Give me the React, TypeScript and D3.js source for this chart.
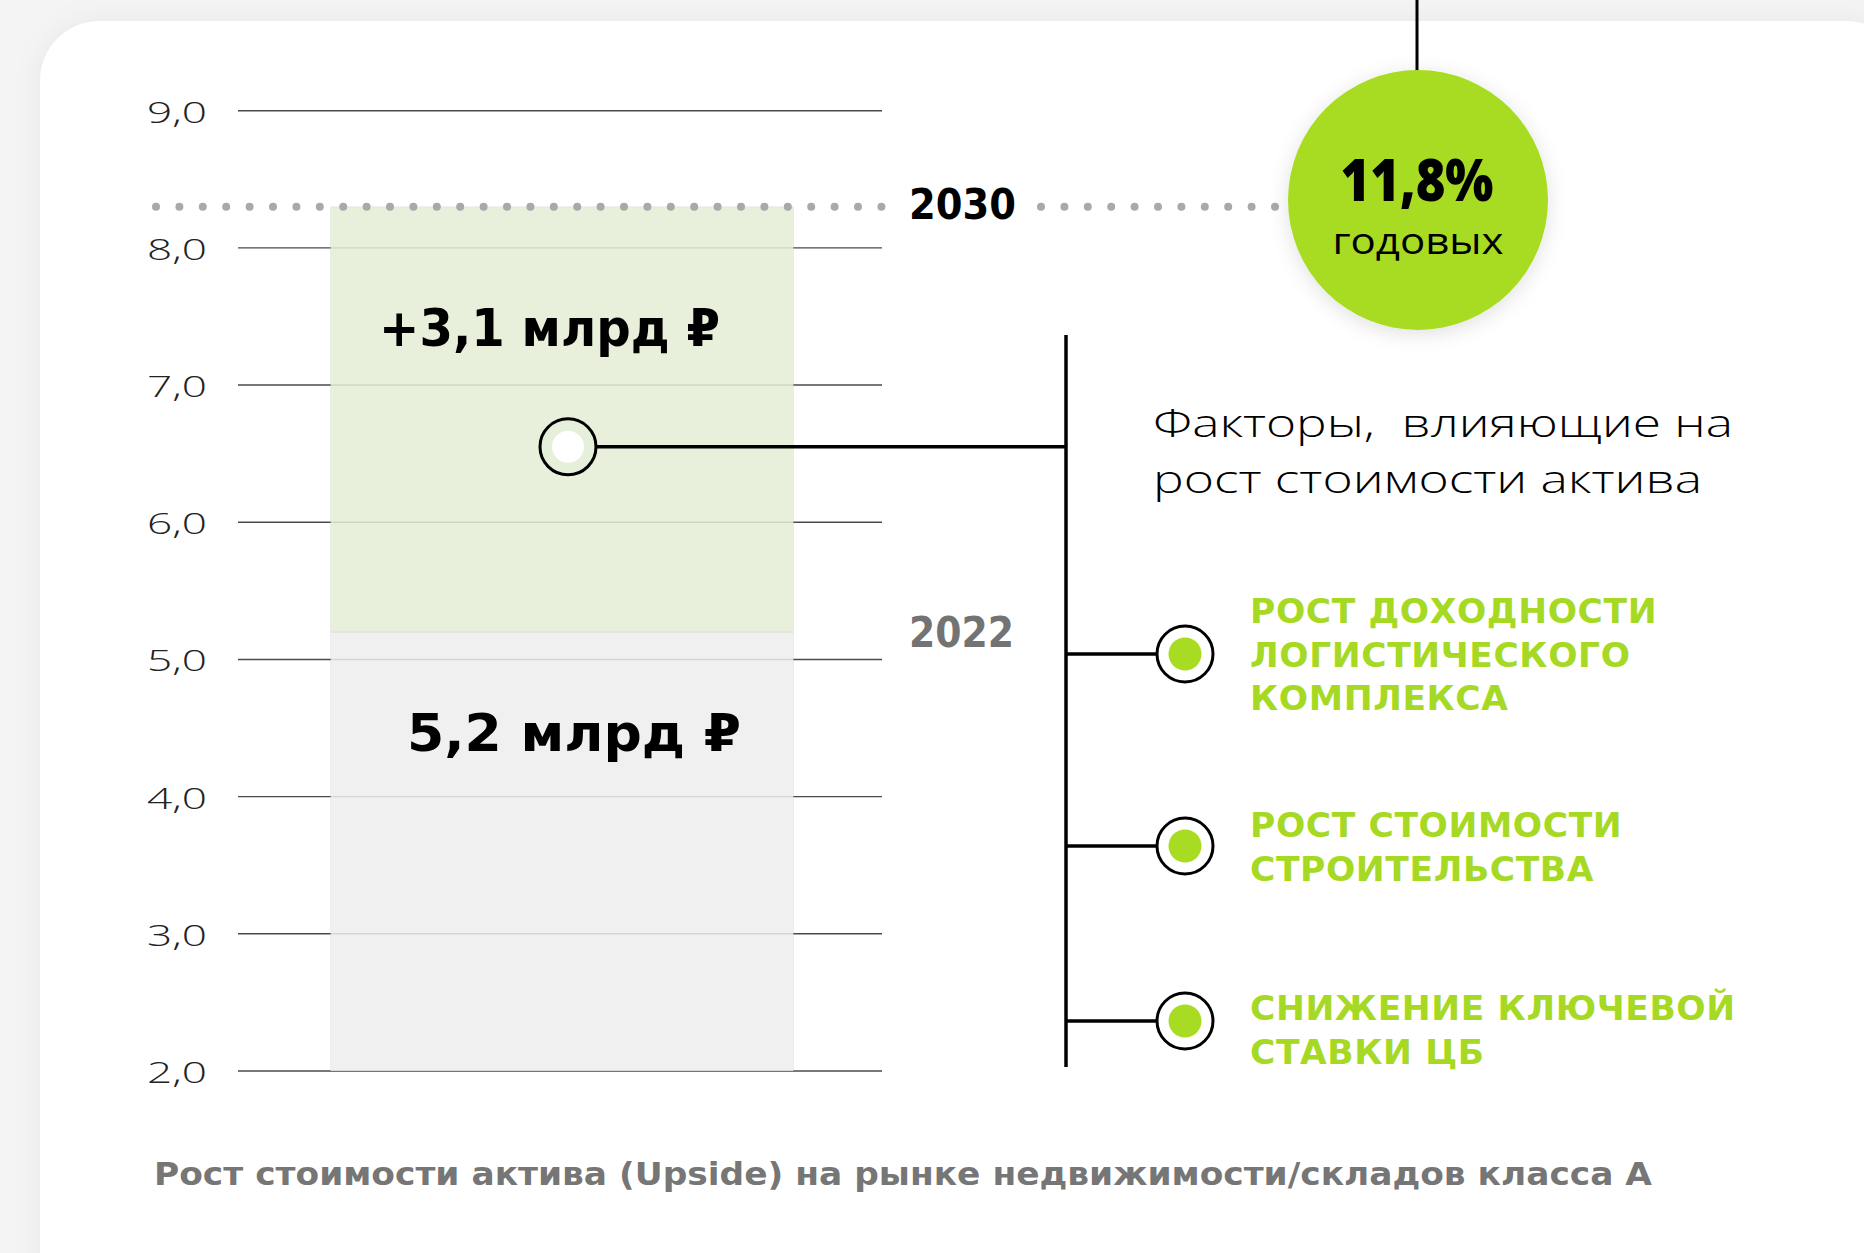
import React from "react";
import * as d3 from "d3";

// ---------- data ----------
const categories = ["Upside"];
const seriesKeys = ["2022", "growth"];
const seriesValues = [5.2, 3.1]; // 2022 value, growth to 2030
const seriesLabels = ["5,2 млрд ₽", "+3,1 млрд ₽"];
const yearLabels = ["2022", "2030"];
const yTicks = [2, 3, 4, 5, 6, 7, 8, 9];
const yTickLabels = ["2,0", "3,0", "4,0", "5,0", "6,0", "7,0", "8,0", "9,0"];
const rateValue = "11,8%";
const rateLabel = "годовых";
const factorsTitle = ["Факторы,  влияющие на", "рост стоимости актива"];
const factors = [
  ["РОСТ ДОХОДНОСТИ", "ЛОГИСТИЧЕСКОГО", "КОМПЛЕКСА"],
  ["РОСТ СТОИМОСТИ", "СТРОИТЕЛЬСТВА"],
  ["СНИЖЕНИЕ КЛЮЧЕВОЙ", "СТАВКИ ЦБ"],
];
const caption = "Рост стоимости актива (Upside) на рынке недвижимости/складов класса А";

// ---------- layout ----------
const W = 1864;
const H = 1253;
const BOLD = "'DejaVu Sans', 'Noto Sans', sans-serif";
const LIGHT = "'Open Sans', 'Lato', 'Noto Sans', sans-serif";
const GREEN = "#a8dc22";
const GREEN_TEXT = "#a6d923";

export default function App() {
  const y = d3.scaleLinear().domain([2, 9]).range([1071, 110.7]);
  const x = d3.scaleBand().domain(categories).range([238, 886]).paddingInner(0).paddingOuter(0.2);
  const row: any = { cat: categories[0] };
  seriesKeys.forEach((k, i) => (row[k] = seriesValues[i]));
  const stacked = d3.stack().keys(seriesKeys)([row]);
  const y0 = y.domain()[0];
  const bx = x(categories[0]) as number;
  const bw = x.bandwidth();
  const total = seriesValues[0] + seriesValues[1];
  const barFills = ["#eeeeee", "#e4edd6"];

  const tlX = 1066;
  const factorYs = [654, 846, 1021];
  const factorFirstBaselines = [623, 837, 1020];
  const lineGap = 43.5;
  const anchorY = y(6.55);
  const anchorX = bx + bw / 2 + 6;
  const circ = { cx: 1418, cy: 200, r: 130 };

  return (
    <div style={{ position: "absolute", left: 0, top: 0, width: W, height: H }}>
      <svg width={W} height={H} viewBox={`0 0 ${W} ${H}`} style={{ display: "block" }}>
        <defs>
          <filter id="cardShadow" x="-10%" y="-10%" width="120%" height="120%">
            <feDropShadow dx="0" dy="0" stdDeviation="14" floodColor="#000" floodOpacity="0.05" />
          </filter>
          <filter id="circShadow" x="-30%" y="-30%" width="160%" height="160%">
            <feDropShadow dx="0" dy="4" stdDeviation="10" floodColor="#000" floodOpacity="0.12" />
          </filter>
        </defs>
        <rect x={0} y={0} width={W} height={H} fill="#f4f4f4" />
        <rect x={40} y={21} width={1866} height={1300} rx={60} fill="#ffffff" filter="url(#cardShadow)" />

        {/* grid lines */}
        {yTicks.map((t) => (
          <line key={t} x1={238} x2={882} y1={y(t)} y2={y(t)} stroke="#4a4a4a" strokeWidth={1.4} />
        ))}
        {/* tick labels */}
        {yTicks.map((t, i) => (
          <text
            key={"l" + t}
            x={207}
            y={y(t) + 12}
            textAnchor="end"
            fontFamily={LIGHT}
            fontWeight={300}
            fontSize={30}
            fill="#222"
            textLength={60}
            lengthAdjust="spacingAndGlyphs"
          >
            {yTickLabels[i]}
          </text>
        ))}

        {/* stacked bars */}
        {stacked.map((s, i) => {
          const d = s[0];
          const lo = Math.max(d[0], y0);
          return (
            <rect
              key={s.key}
              x={bx}
              width={bw}
              y={y(d[1])}
              height={y(lo) - y(d[1])}
              fill={barFills[i]}
              fillOpacity={0.86}
              stroke="rgba(0,0,0,0.05)"
              strokeWidth={1}
            />
          );
        })}

        {/* bar labels */}
        <text x={407} y={y(seriesValues[0]) + 119} fontFamily={BOLD} fontWeight={700} fontSize={52} fill="#000" textLength={334} lengthAdjust="spacingAndGlyphs">
          {seriesLabels[0]}
        </text>
        <text x={379} y={346} fontFamily={BOLD} fontWeight={700} fontSize={52} fill="#000" textLength={341} lengthAdjust="spacingAndGlyphs">
          {seriesLabels[1]}
        </text>

        {/* dotted 2030 level */}
        <line x1={156} x2={890} y1={y(total)} y2={y(total)} stroke="#a9a9a9" strokeWidth={8} strokeDasharray="0 23.4" strokeLinecap="round" />
        <line x1={1041} x2={1284} y1={y(total)} y2={y(total)} stroke="#a9a9a9" strokeWidth={8} strokeDasharray="0 23.4" strokeLinecap="round" />

        {/* year labels */}
        <text x={909} y={y(total) + 12} fontFamily={BOLD} fontWeight={700} fontSize={43} fill="#000" textLength={107} lengthAdjust="spacingAndGlyphs">
          {yearLabels[1]}
        </text>
        <text x={909} y={y(seriesValues[0]) + 15} fontFamily={BOLD} fontWeight={700} fontSize={42} fill="#737373" textLength={105} lengthAdjust="spacingAndGlyphs">
          {yearLabels[0]}
        </text>

        {/* green rate circle */}
        <line x1={circ.cx - 1} x2={circ.cx - 1} y1={0} y2={circ.cy - circ.r + 2} stroke="#000" strokeWidth={3} />
        <circle cx={circ.cx} cy={circ.cy} r={circ.r} fill={GREEN} filter="url(#circShadow)" />
        <text x={circ.cx - 1} y={201} textAnchor="middle" fontFamily={LIGHT} fontWeight={800} fontSize={58} fill="#000" textLength={153} lengthAdjust="spacingAndGlyphs">
          {rateValue}
        </text>
        <text x={circ.cx} y={254} textAnchor="middle" fontFamily={LIGHT} fontWeight={500} fontSize={36} fill="#000" textLength={171} lengthAdjust="spacingAndGlyphs">
          {rateLabel}
        </text>

        {/* connector from bar to timeline */}
        <line x1={anchorX + 28} x2={tlX} y1={anchorY} y2={anchorY} stroke="#000" strokeWidth={3.5} />
        <circle cx={anchorX} cy={anchorY} r={28} fill="#e6efd9" stroke="#000" strokeWidth={3} />
        <circle cx={anchorX} cy={anchorY} r={16} fill="#ffffff" />

        {/* timeline */}
        <line x1={tlX} x2={tlX} y1={335} y2={1067} stroke="#000" strokeWidth={3.5} />

        {/* factors title */}
        {factorsTitle.map((t, i) => (
          <text
            key={"ft" + i}
            x={1153}
            y={437 + i * 56}
            fontFamily={LIGHT}
            fontWeight={300}
            fontSize={39}
            fill="#000"
            style={{ whiteSpace: "pre" }}
            textLength={i === 0 ? 580 : 549}
            lengthAdjust="spacingAndGlyphs"
          >
            {t}
          </text>
        ))}

        {/* factors */}
        {factors.map((lines, i) => (
          <g key={"f" + i}>
            <line x1={tlX} x2={1157} y1={factorYs[i]} y2={factorYs[i]} stroke="#000" strokeWidth={3.5} />
            <circle cx={1185} cy={factorYs[i]} r={28} fill="#fff" stroke="#000" strokeWidth={3} />
            <circle cx={1185} cy={factorYs[i]} r={16.5} fill={GREEN} />
            {lines.map((ln, j) => (
              <text
                key={j}
                x={1250}
                y={factorFirstBaselines[i] + j * lineGap}
                fontFamily={BOLD}
                fontWeight={700}
                fontSize={34.5}
                letterSpacing={0.6}
                fill={GREEN_TEXT}
              >
                {ln}
              </text>
            ))}
          </g>
        ))}

        {/* caption */}
        <text x={154} y={1185} fontFamily={BOLD} fontWeight={700} fontSize={32} fill="#767676" textLength={1498} lengthAdjust="spacingAndGlyphs">
          {caption}
        </text>
      </svg>
    </div>
  );
}
